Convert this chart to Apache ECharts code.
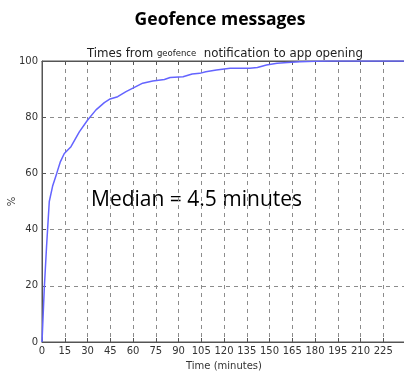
<!DOCTYPE html>
<html>
<head>
<meta charset="utf-8">
<script src="https://cdn.jsdelivr.net/npm/echarts@6/dist/echarts.min.js"></script>
<style>
  html, body { margin: 0; padding: 0; background: #fff; }
  #chart { width: 404px; height: 373px; }
</style>
</head>
<body>
<div id="chart"></div>
<script>
// Cumulative share of app openings after a geofence notification
const minutes = [0, 1.5, 3, 4.8, 7, 9.7, 12, 14.7, 19.1, 24.6, 30.1, 35.6, 41.1, 44.9, 49.9,
  55.4, 60.9, 66.4, 73, 80.7, 84.5, 93, 99, 104, 108, 115, 124, 137, 142, 148, 155, 162,
  170, 180, 190, 240];
const percentOpened = [0, 19, 34, 50, 55.5, 60, 64, 67.1, 69.5, 74.8, 79, 82.6, 85.2, 86.5, 87.3,
  89.1, 90.6, 92.1, 92.9, 93.4, 94.1, 94.4, 95.4, 95.6, 96.2, 96.8, 97.4, 97.4, 97.7, 98.6, 99.2, 99.5,
  99.7, 99.9, 100, 100];
const xTicks = [0, 240, 15];   // min, max, step
const yTicks = [0, 100, 20];

const chart = echarts.init(document.getElementById('chart'));
const axisFont = { fontFamily: 'DejaVu Sans', fontSize: 10, color: '#333' };
const frame = { lineStyle: { color: '#555', width: 1 } };
const grid = { type: [4, 4], color: '#8c8c8c', width: 1 };

chart.setOption({
  animation: false,
  title: [
    {
      text: 'Geofence messages', left: 215, top: 6, textAlign: 'center',
      textStyle: { fontFamily: 'Open Sans', fontWeight: 'bold', fontSize: 17.5, color: '#000' }
    },
    {
      text: '{a|Times from }{b|geofence}{a|  notification to app opening}',
      left: 220, top: 43, textAlign: 'center',
      textStyle: {
        rich: {
          a: { fontFamily: 'DejaVu Sans', fontWeight: 'normal', fontSize: 11.8, color: '#222' },
          b: { fontFamily: 'DejaVu Sans', fontWeight: 'normal', fontSize: 8.5, color: '#222' }
        }
      }
    }
  ],
  graphic: [{
    type: 'text', left: 91, top: 190,
    style: { text: 'Median = 4.5 minutes', font: '21px "Open Sans"', fill: '#000' }
  }],
  grid: {
    left: 42, top: 61, width: 364, height: 281, outerBoundsMode: 'none',
    show: true, borderColor: '#555', borderWidth: 1
  },
  xAxis: [
    {
      type: 'value', min: xTicks[0], max: xTicks[1], interval: xTicks[2],
      name: 'Time (minutes)', nameLocation: 'middle', nameGap: 19, nameMoveOverlap: false,
      nameTextStyle: axisFont,
      axisLine: frame,
      axisTick: { inside: true, length: 4, lineStyle: { color: '#555' } },
      axisLabel: Object.assign({ margin: 4, showMaxLabel: false }, axisFont),
      splitLine: { show: true, lineStyle: grid }
    },
    {
      type: 'value', position: 'top', min: xTicks[0], max: xTicks[1], interval: xTicks[2],
      axisLine: frame,
      axisTick: { inside: true, length: 4, lineStyle: { color: '#555' } },
      axisLabel: { show: false }, splitLine: { show: false }
    }
  ],
  yAxis: {
    type: 'value', min: yTicks[0], max: yTicks[1], interval: yTicks[2],
    name: '%', nameLocation: 'middle', nameGap: 25, nameMoveOverlap: false,
    nameTextStyle: axisFont,
    axisLine: { show: true, lineStyle: { color: '#555', width: 1 } },
    axisTick: { show: true, inside: true, length: 4, lineStyle: { color: '#555' } },
    axisLabel: Object.assign({ margin: 4 }, axisFont),
    splitLine: { show: true, lineStyle: grid }
  },
  series: [{
    type: 'line', xAxisIndex: 0,
    data: minutes.map((m, i) => [m, percentOpened[i]]),
    showSymbol: false, smooth: false, clip: true,
    lineStyle: { color: '#6464ff', width: 1.5 }
  }]
});
</script>
</body>
</html>
